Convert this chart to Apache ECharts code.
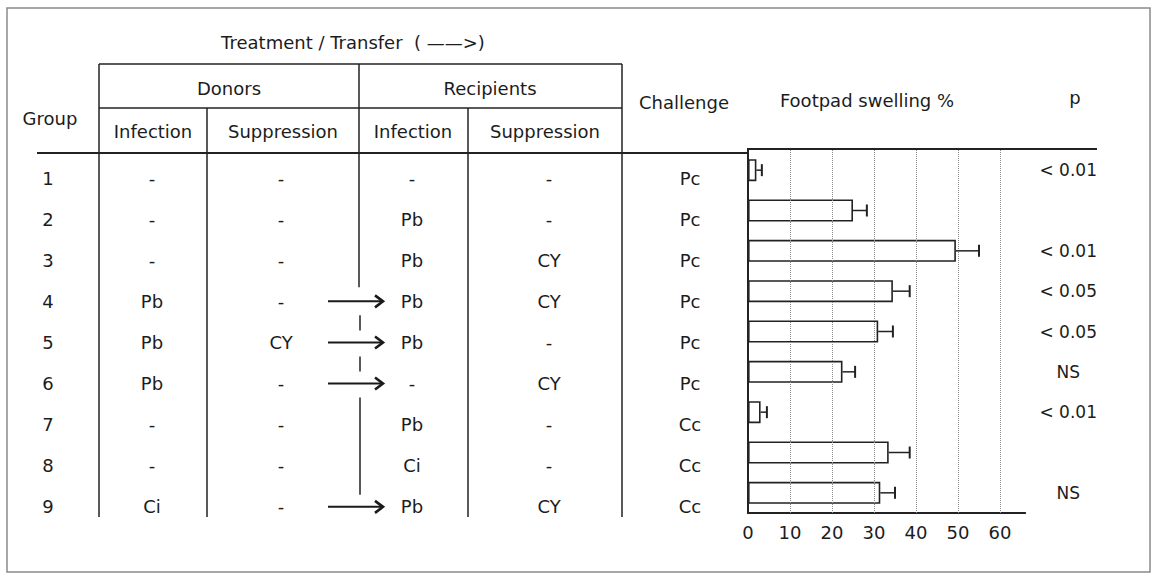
<!DOCTYPE html>
<html>
<head>
<meta charset="utf-8">
<script src="https://cdn.jsdelivr.net/npm/echarts@6/dist/echarts.min.js"></script>
<style>
  html, body { margin: 0; background: #fff; }
  #chart { width: 1159px; height: 574px; }
</style>
</head>
<body>
<div id="chart"></div>
<script>
// table rows
const groups = ["1", "2", "3", "4", "5", "6", "7", "8", "9"];
const donorInfection = ["-", "-", "-", "Pb", "Pb", "Pb", "-", "-", "Ci"];
const donorSuppression = ["-", "-", "-", "-", "CY", "-", "-", "-", "-"];
const recipientInfection = ["-", "Pb", "Pb", "Pb", "Pb", "-", "Pb", "Ci", "Pb"];
const recipientSuppression = ["-", "-", "CY", "CY", "-", "CY", "-", "-", "CY"];
const challenge = ["Pc", "Pc", "Pc", "Pc", "Pc", "Pc", "Cc", "Cc", "Cc"];
const transferRows = [3, 4, 5, 8]; // groups 4, 5, 6, 9 get cells transferred

// footpad swelling %
const swelling = [2, 25, 49.5, 34.5, 31, 22.5, 3, 33.5, 31.5];
const swellingErr = [1.3, 3.3, 5.5, 4, 3.5, 3, 1.5, 5, 3.5];
const pValues = ["< 0.01", "", "< 0.01", "< 0.05", "< 0.05", "NS", "< 0.01", "", "NS"];
const xTicks = [0, 10, 20, 30, 40, 50, 60];

const FONT = "DejaVu Sans";
const INK = "#1c1c1c";
const tableTop = 157.5;
const rowH = 41.1;
const rowY = (i) => tableTop + rowH * (i + 0.5);

const chart = echarts.init(document.getElementById("chart"), null, { renderer: "svg" });

function textColumn(texts, x) {
  return {
    type: "scatter",
    xAxisIndex: 1,
    yAxisIndex: 2,
    symbolSize: 0.1,
    silent: true,
    itemStyle: { color: "rgba(0,0,0,0)", opacity: 1 },
    data: texts.map((t, i) => ({ name: t, value: [x, i] })),
    label: {
      show: true,
      position: "inside",
      formatter: "{b}",
      color: INK,
      fontFamily: FONT,
      fontSize: 18,
    },
  };
}

function line(x1, y1, x2, y2, w) {
  return {
    type: "line",
    silent: true,
    shape: { x1: x1, y1: y1, x2: x2, y2: y2 },
    style: { stroke: "#222", lineWidth: w || 1.5 },
  };
}

function label(text, x, y) {
  return {
    type: "text",
    x: x,
    y: y,
    silent: true,
    style: {
      text: text,
      fontFamily: FONT,
      fontSize: 18,
      fill: INK,
      align: "center",
      verticalAlign: "middle",
    },
  };
}

// table rules
const rules = [
  line(99, 64, 622, 64),
  line(99, 108, 622, 108),
  line(37, 153, 747, 153, 2),
  line(747, 149, 1097, 149, 2),
  line(99, 64, 99, 517),
  line(207, 108, 207, 517),
  line(359, 64, 359, rowY(transferRows[0]) - 14),
  line(468, 108, 468, 517),
  line(622, 64, 622, 517),
];
// transfer connector between arrows
for (let k = 1; k < transferRows.length; k++) {
  const a = transferRows[k - 1];
  const b = transferRows[k];
  rules.push(line(360, rowY(a) + 14, 360, rowY(b) - 12));
}

const headers = [
  label("Treatment / Transfer  ( ——>)", 353, 42),
  label("Donors", 229, 88),
  label("Recipients", 490, 88),
  label("Group", 50, 118),
  label("Infection", 153, 131),
  label("Suppression", 283, 131),
  label("Infection", 413, 131),
  label("Suppression", 545, 131),
  label("Challenge", 684, 102),
  label("Footpad swelling %", 867, 100),
  label("p", 1075, 97),
];

chart.setOption({
  animation: false,
  backgroundColor: "#fff",
  grid: [
    { left: 748, top: 150, width: 277.2, height: 363 },
    { left: 0, right: 0, top: tableTop, height: rowH * 9 },
  ],
  xAxis: [
    {
      type: "value",
      gridIndex: 0,
      min: 0,
      max: 66,
      interval: 10,
      splitLine: { show: false },
      axisLine: { show: true, lineStyle: { color: "#222", width: 2 } },
      axisTick: { show: false },
      axisLabel: {
        margin: 10,
        color: INK,
        fontFamily: FONT,
        fontSize: 18,
        showMaxLabel: false,
        formatter: (v) => (xTicks.indexOf(v) >= 0 ? String(v) : ""),
      },
    },
    { type: "value", gridIndex: 1, min: 0, max: 1159, show: false },
  ],
  yAxis: [
    {
      type: "category",
      gridIndex: 0,
      data: groups,
      inverse: true,
      axisLine: { show: true, lineStyle: { color: "#222", width: 2 } },
      axisTick: { show: true, inside: true, alignWithLabel: true, length: 6, lineStyle: { color: "#222", width: 1.5 } },
      axisLabel: { show: false },
    },
    {
      type: "category",
      gridIndex: 0,
      data: pValues,
      inverse: true,
      position: "right",
      axisLine: { show: false },
      axisTick: { show: false },
      axisLabel: { margin: 43, align: "center", color: INK, fontFamily: FONT, fontSize: 17 },
    },
    { type: "category", gridIndex: 1, data: groups, inverse: true, show: false },
  ],
  series: [
    {
      type: "bar",
      xAxisIndex: 0,
      yAxisIndex: 0,
      data: swelling,
      barWidth: 22,
      itemStyle: { color: "#fff", borderColor: "#222", borderWidth: 1.6 },
      markLine: {
        silent: true,
        symbol: ["none", "none"],
        label: { show: false },
        lineStyle: { type: "dotted", color: "#8a8a8a", width: 1 },
        data: xTicks.slice(1).map((v) => ({ xAxis: v })),
      },
    },
    {
      type: "custom",
      xAxisIndex: 0,
      yAxisIndex: 0,
      data: swelling.map((v, i) => [v, swellingErr[i], i]),
      encode: { x: 0, y: 2 },
      z: 5,
      renderItem: function (params, api) {
        const a = api.coord([api.value(0), api.value(2)]);
        const b = api.coord([api.value(0) + api.value(1), api.value(2)]);
        return {
          type: "group",
          children: [
            { type: "line", shape: { x1: a[0], y1: a[1], x2: b[0], y2: b[1] }, style: { stroke: "#222", lineWidth: 1.5 } },
            { type: "line", shape: { x1: b[0], y1: b[1] - 6, x2: b[0], y2: b[1] + 6 }, style: { stroke: "#222", lineWidth: 2 } },
          ],
        };
      },
    },
    textColumn(groups, 48),
    textColumn(donorInfection, 152),
    textColumn(donorSuppression, 281),
    textColumn(recipientInfection, 412),
    textColumn(recipientSuppression, 549),
    textColumn(challenge, 690),
    {
      // transfer arrows donor -> recipient
      type: "custom",
      xAxisIndex: 1,
      yAxisIndex: 2,
      data: transferRows.map((r) => [0, r]),
      renderItem: function (params, api) {
        const p0 = api.coord([328, api.value(1)]);
        const p1 = api.coord([383, api.value(1)]);
        const y = p0[1];
        return {
          type: "group",
          children: [
            { type: "line", shape: { x1: p0[0], y1: y, x2: p1[0] - 2, y2: y }, style: { stroke: "#1a1a1a", lineWidth: 2 } },
            {
              type: "polyline",
              shape: { points: [[p1[0] - 8, y - 6], [p1[0], y], [p1[0] - 8, y + 6]] },
              style: { stroke: "#1a1a1a", lineWidth: 2.6, fill: null },
            },
          ],
        };
      },
    },
  ],
  graphic: [
    {
      type: "rect",
      silent: true,
      shape: { x: 7, y: 8, width: 1143, height: 564 },
      style: { fill: null, stroke: "#8a8a8a", lineWidth: 1.5 },
    },
  ].concat(rules, headers),
});
</script>
</body>
</html>
